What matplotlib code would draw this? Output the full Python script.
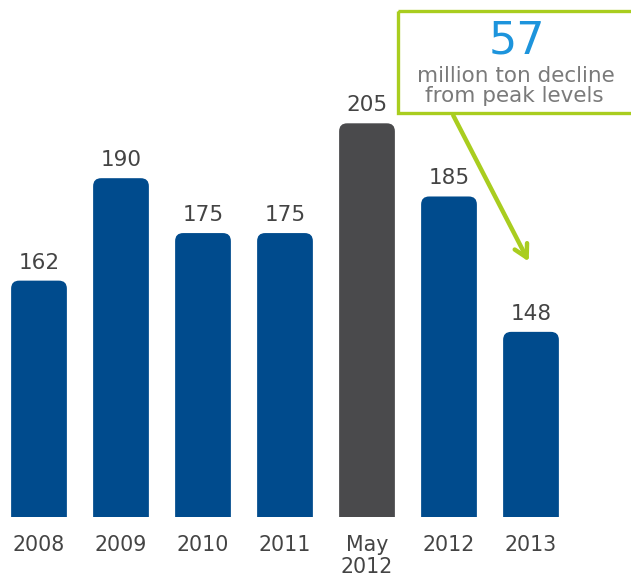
import numpy as np
import matplotlib.pyplot as plt
from matplotlib.patches import FancyBboxPatch, Rectangle

labels = ['2008', '2009', '2010', '2011', 'May\n2012', '2012', '2013']
values = [162, 190, 175, 175, 205, 185, 148]
colors = ['#004b8d', '#004b8d', '#004b8d', '#004b8d', '#4a4a4c', '#004b8d', '#004b8d']

ymin, ymax = 97.4, 238.7
bar_w = 0.68

fig = plt.figure(figsize=(6.31, 5.76), dpi=100)
ax = fig.add_axes([0, 59 / 576, 1, 517 / 576])
ax.set_xlim(-39 / 82, (631 - 39) / 82)
ax.set_ylim(ymin, ymax)
ax.axis('off')

# rounded-top bars: start below the axis floor so only the top corners show
px_x = 1 / 82.0
px_y = (ymax - ymin) / 517.0
r = 8 * px_x
for i, (v, c) in enumerate(zip(values, colors)):
    box = FancyBboxPatch((i - bar_w / 2, ymin - 10), bar_w, v - ymin + 10,
                         boxstyle=f'round,pad=0,rounding_size={r}',
                         mutation_aspect=px_y / px_x,
                         fc=c, ec='none', clip_on=True)
    ax.add_patch(box)
    ax.text(i, v + 12 * px_y, str(v), ha='center', va='baseline',
            fontsize=15.5, color='#444444')

for i, lab in enumerate(labels):
    fig.text((39 + 82 * i) / 631, 1 - 535 / 576, lab, ha='center', va='top',
             fontsize=14.8, color='#444444', linespacing=1.12)

# callout box
box_ax = fig.add_axes([0, 0, 1, 1])
box_ax.set_xlim(0, 631)
box_ax.set_ylim(576, 0)
box_ax.axis('off')
box_ax.add_patch(Rectangle((398, 11), 260, 102, fill=False, ec='#a9cd1f', lw=2.4))
box_ax.text(517, 53, '57', ha='center', va='baseline', fontsize=32, color='#1d94dc')
box_ax.text(516, 82, 'million ton decline', ha='center', va='baseline',
            fontsize=15.5, color='#7a7a7a')
box_ax.text(514, 102, 'from peak levels', ha='center', va='baseline',
            fontsize=15.5, color='#7a7a7a')
box_ax.annotate('', xy=(530, 264), xytext=(452, 113),
                arrowprops=dict(arrowstyle='->,head_length=0.9,head_width=0.5',
                                color='#a9cd1f', lw=3.2))

fig.savefig('out.png', dpi=100)
